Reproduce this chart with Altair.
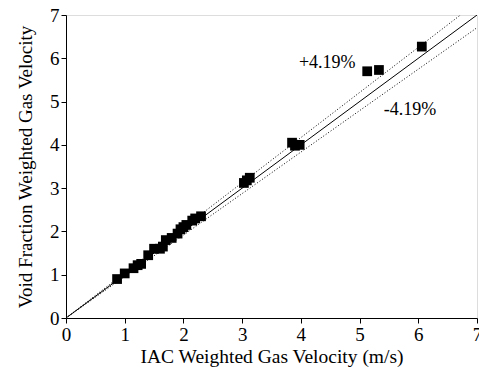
import altair as alt
import pandas as pd

iac = [0.87, 1.00, 1.15, 1.22, 1.28, 1.40, 1.50, 1.60, 1.65, 1.70, 1.80, 1.90, 1.95, 2.00,
       2.05, 2.15, 2.20, 2.30, 3.03, 3.08, 3.13, 3.85, 3.90, 3.98, 5.13, 5.33, 6.06]
vf = [0.90, 1.03, 1.15, 1.22, 1.25, 1.45, 1.60, 1.60, 1.65, 1.80, 1.85, 1.95, 2.05, 2.10,
      2.15, 2.25, 2.30, 2.35, 3.12, 3.18, 3.24, 4.05, 3.98, 4.00, 5.70, 5.73, 6.27]
band = 4.19
label_text = ["+4.19%", "-4.19%"]
label_x = [4.45, 5.86]
label_y = [5.90, 4.81]
tick_values = [i * 0.5 for i in range(15)]

pts = pd.DataFrame({"x": iac, "y": vf})
line_x = [0, 7]
lines = pd.DataFrame({
    "x": line_x * 3,
    "y": [v * f for f in (1.0, 1 + band / 100, 1 - band / 100) for v in line_x],
    "s": ["ref"] * 2 + ["plus"] * 2 + ["minus"] * 2,
})
labels = pd.DataFrame({"t": label_text, "x": label_x, "y": label_y})

FONT = "Liberation Serif"
xs = alt.Scale(domain=[0, 7], nice=False)
ys = alt.Scale(domain=[0, 7], nice=False)

common = dict(
    values=tick_values,
    tickSize={"condition": {"test": "datum.value % 1 === 0", "value": 5}, "value": 3},
    labelExpr="datum.value % 1 === 0 ? format(datum.value, 'd') : ''",
    labelFont=FONT, labelFontSize=19, labelColor="black",
    titleFont=FONT, titleFontWeight="normal", titleColor="black",
    domainColor="black", tickColor="black", grid=False,
    labelPadding=2, labelFlush=False, labelOverlap=False,
)

x_axis = alt.Axis(title="IAC Weighted Gas Velocity (m/s)", titleFontSize=19.5, titlePadding=3, **common)
y_axis = alt.Axis(title="Void Fraction Weighted Gas Velocity", titleFontSize=19, titlePadding=14, **common)

ref = alt.Chart(lines).transform_filter(alt.datum.s == "ref").mark_line(
    color="black", strokeWidth=1, clip=True).encode(
    x=alt.X("x:Q", scale=xs, axis=x_axis), y=alt.Y("y:Q", scale=ys, axis=y_axis))
bands = alt.Chart(lines).transform_filter(alt.datum.s != "ref").mark_line(
    color="black", strokeWidth=1, strokeDash=[1, 2], clip=True).encode(
    x=alt.X("x:Q", scale=xs), y=alt.Y("y:Q", scale=ys), detail="s:N")

squares = alt.Chart(pts).mark_point(shape="square", filled=True, color="black", opacity=1, size=95).encode(
    x=alt.X("x:Q", scale=xs), y=alt.Y("y:Q", scale=ys))

txt = alt.Chart(labels).mark_text(font=FONT, fontSize=18, color="black").encode(
    x=alt.X("x:Q", scale=xs), y=alt.Y("y:Q", scale=ys), text="t:N")

chart = alt.layer(ref, bands, squares, txt).properties(
    width=411, height=303,
    autosize=alt.AutoSizeParams(type="none"),
    padding={"left": 66, "top": 15, "right": 2, "bottom": 58},
).configure_view(stroke="black", strokeWidth=1).configure(background="white")

chart.save("out.html", embed_options={"renderer": "svg", "actions": False})
